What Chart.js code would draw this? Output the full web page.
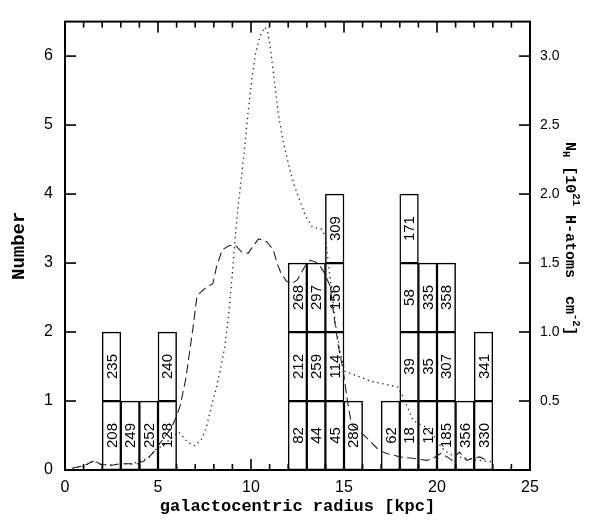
<!DOCTYPE html>
<html><head><meta charset="utf-8">
<script src="https://cdn.jsdelivr.net/npm/chart.js@4"></script>
<style>html,body{margin:0;padding:0;background:#fff}</style>
</head><body>
<canvas id="c" width="595" height="522"></canvas>
<script>
// Histogram boxes (1 kpc wide), each box one object
const boxCenters = [2.5,2.5,3.5,4.5,5.5,5.5,12.5,12.5,12.5,13.5,13.5,13.5,14.5,14.5,14.5,14.5,15.5,17.5,18.5,18.5,18.5,18.5,19.5,19.5,19.5,20.5,20.5,20.5,21.5,22.5,22.5];
const boxLevels  = [0,1,0,0,0,1,0,1,2,0,1,2,0,1,2,3,0,0,0,1,2,3,0,1,2,0,1,2,0,0,1];
const boxLabels  = ['208','235','249','252','128','240','82','212','268','44','259','297','45','114','156','309','280','62','18','39','58','171','12','35','335','185','307','358','356','330','341'];

// Dashed curve (N_H, 10^21 cm^-2)
const dashedR = [0.4,1.0,1.6,1.9,2.5,3.0,3.5,3.8,4.4,4.7,5.0,5.3,5.7,6.0,6.2,6.5,6.9,7.1,7.6,7.95,8.15,8.45,8.8,9.15,9.5,9.85,10.05,10.4,10.85,11.2,11.4,11.6,11.9,12.2,12.5,12.75,13.0,13.2,13.6,13.9,14.25,14.45,14.7,14.95,15.2,15.4,15.85,16.4,16.9,17.3,18.0,18.7,19.45,19.8,20.2,20.55,20.8,21.2,21.6,21.9,22.3,22.65];
const dashedN = [0.015,0.03,0.07,0.04,0.035,0.045,0.045,0.04,0.075,0.12,0.175,0.23,0.3,0.39,0.47,0.665,1.05,1.265,1.325,1.35,1.475,1.595,1.625,1.63,1.58,1.57,1.61,1.675,1.655,1.595,1.5,1.43,1.37,1.35,1.38,1.44,1.5,1.52,1.5,1.44,1.335,1.125,0.895,0.725,0.49,0.33,0.28,0.21,0.14,0.12,0.095,0.085,0.07,0.085,0.12,0.095,0.07,0.13,0.07,0.085,0.095,0.07];

// Dotted curve (N_H, 10^21 cm^-2)
const dottedR = [0.4,1.0,1.5,2.0,2.5,3.0,3.6,4.0,4.5,4.9,5.3,5.7,6.1,6.3,6.6,7.0,7.35,7.6,7.9,8.1,8.35,8.6,8.8,9.0,9.15,9.3,9.5,9.68,9.85,10.05,10.25,10.5,10.75,10.9,11.05,11.2,11.45,11.7,12.0,12.3,12.6,12.9,13.3,13.8,14.0,14.1,14.2,14.35,14.55,14.8,15.05,15.75,16.4,17.3,17.9,18.1,18.45,18.7,19.1,19.6,20.0,20.4,20.9,21.8,22.5,23.0];
const dottedN = [0.01,0.025,0.065,0.04,0.035,0.045,0.045,0.06,0.09,0.15,0.18,0.23,0.275,0.25,0.2,0.175,0.225,0.31,0.475,0.575,0.725,0.9,1.125,1.43,1.685,1.9,2.135,2.37,2.6,2.835,3.025,3.15,3.21,3.175,3.05,2.885,2.6,2.4,2.225,2.075,1.96,1.85,1.76,1.745,1.69,1.57,1.45,1.3,1.05,0.85,0.715,0.68,0.645,0.62,0.6,0.55,0.445,0.36,0.33,0.3,0.21,0.14,0.1,0.08,0.065,0.06];

// Tick labels
const xTickLabels = ['0','5','10','15','20','25'];
const yLeftTickLabels = ['0','1','2','3','4','5','6'];
const yRightTickLabels = ['0.5','1.0','1.5','2.0','2.5','3.0'];

Chart.defaults.font.family = '"Liberation Sans", Arial, sans-serif';
Chart.defaults.color = '#000';

const boxLabelPlugin = {
  id: 'boxLabelPlugin',
  afterDatasetDraw(chart, args) {
    if (args.index !== 0) return;
    const ctx = chart.ctx;
    ctx.save();
    ctx.font = '15px "Liberation Sans", Arial, sans-serif';
    ctx.fillStyle = '#000';
    ctx.textAlign = 'center';
    ctx.textBaseline = 'middle';
    args.meta.data.forEach((el, i) => {
      const p = el.getProps(['x','y','base'], true);
      ctx.save();
      ctx.translate(p.x, (p.y + p.base) / 2);
      ctx.rotate(-Math.PI / 2);
      ctx.fillText(boxLabels[i], 0, 1);
      ctx.restore();
    });
    ctx.restore();
  }
};

const framePlugin = {
  id: 'framePlugin',
  afterDraw(chart) {
    const ctx = chart.ctx;
    const area = chart.chartArea;
    const left = area.left, right = area.right, top = area.top, bottom = area.bottom;
    const sx = chart.scales.x, sy = chart.scales.y, sy2 = chart.scales.y2;
    ctx.save();
    ctx.fillStyle = '#000';
    const tw = 1.6;
    for (let k = 0; k <= 25; k++) {
      const px = sx.getPixelForValue(k);
      const len = (k % 5 === 0) ? 11 : 6;
      ctx.fillRect(px - tw / 2, bottom - len, tw, len);
      ctx.fillRect(px - tw / 2, top, tw, len);
    }
    yLeftTickLabels.forEach(t => {
      const py = sy.getPixelForValue(parseFloat(t));
      ctx.fillRect(left, py - tw / 2, 11, tw);
    });
    yRightTickLabels.forEach(t => {
      const py = sy2.getPixelForValue(parseFloat(t));
      ctx.fillRect(right - 11, py - tw / 2, 11, tw);
    });
    ctx.strokeStyle = '#000';
    ctx.lineWidth = 2;
    ctx.strokeRect(left, top, right - left, bottom - top);

    // right axis title with sub/superscripts
    const base = 15;
    const parts = [
      {t:'N', s:1, dy:0},
      {t:'H', s:0.7, dy:0.3},
      {t:' [10', s:1, dy:0},
      {t:'21', s:0.7, dy:-0.35},
      {t:' H-atoms  cm', s:1, dy:0},
      {t:'-2', s:0.7, dy:-0.35},
      {t:']', s:1, dy:0}
    ];
    let total = 0;
    parts.forEach(p => {
      ctx.font = 'bold ' + (base * p.s) + 'px "Liberation Mono", monospace';
      p.w = ctx.measureText(p.t).width;
      total += p.w;
    });
    ctx.translate(570, (top + bottom) / 2 - 7);
    ctx.rotate(Math.PI / 2);
    ctx.textBaseline = 'middle';
    ctx.textAlign = 'left';
    let xx = -total / 2;
    parts.forEach(p => {
      ctx.font = 'bold ' + (base * p.s) + 'px "Liberation Mono", monospace';
      ctx.fillText(p.t, xx, p.dy * base);
      xx += p.w;
    });
    ctx.restore();
  }
};

new Chart(document.getElementById('c'), {
  type: 'bar',
  data: {
    datasets: [
      {
        type: 'bar',
        data: boxCenters.map((c, i) => ({x: c, y: [boxLevels[i], boxLevels[i] + 1]})),
        backgroundColor: 'rgba(255,255,255,0)',
        borderColor: '#000', borderWidth: 0.8, borderSkipped: false,
        barPercentage: 1, categoryPercentage: 1,
        xAxisID: 'x', yAxisID: 'y', order: 2
      },
      {
        type: 'line',
        data: dottedR.map((r, i) => ({x: r, y: dottedN[i]})),
        borderColor: '#222', borderWidth: 1.3, borderDash: [1.3, 3.7],
        pointRadius: 0, fill: false, tension: 0,
        xAxisID: 'x', yAxisID: 'y2', order: 1
      },
      {
        type: 'line',
        data: dashedR.map((r, i) => ({x: r, y: dashedN[i]})),
        borderColor: '#222', borderWidth: 1.1, borderDash: [9, 4.5],
        pointRadius: 0, fill: false, tension: 0,
        xAxisID: 'x', yAxisID: 'y2', order: 1
      }
    ]
  },
  options: {
    responsive: false, animation: false, devicePixelRatio: 1, events: [],
    layout: {padding: {top: 7, left: 0, right: 0, bottom: 0}},
    plugins: {legend: {display: false}, tooltip: {enabled: false}},
    scales: {
      x: {
        type: 'linear', position: 'bottom', min: 0, max: 25, offset: false,
        grid: {display: false, drawTicks: false, offset: false},
        border: {display: false},
        ticks: {stepSize: 5, padding: 8, font: {size: 16}, color: '#000', maxRotation: 0,
          callback: (v) => xTickLabels.includes(String(v)) ? String(v) : ''},
        title: {display: true, text: 'galactocentric radius [kpc]', color: '#000',
          font: {family: '"Liberation Mono", monospace', size: 17, weight: 'bold'},
          padding: {top: 0, bottom: 5}},
        afterFit(s) { s.height = 52; }
      },
      y: {
        type: 'linear', position: 'left', min: 0, max: 6.5,
        grid: {display: false, drawTicks: false},
        border: {display: false},
        ticks: {stepSize: 1, padding: 12, font: {size: 16}, color: '#000',
          callback: (v) => yLeftTickLabels.includes(String(v)) ? String(v) : ''},
        title: {display: true, text: 'Number', color: '#000',
          font: {family: '"Liberation Mono", monospace', size: 19, weight: 'bold'},
          padding: {top: 8, bottom: 0}},
        afterFit(s) { s.width = 65; }
      },
      y2: {
        type: 'linear', position: 'right', min: 0, max: 3.25,
        grid: {display: false, drawTicks: false},
        border: {display: false},
        ticks: {stepSize: 0.5, padding: 10, font: {size: 14}, color: '#000',
          callback: (v) => { const s = Number(v).toFixed(1); return yRightTickLabels.includes(s) && Math.abs(Number(s) - v) < 1e-9 ? s : ''; }},
        afterFit(s) { s.width = 65; }
      }
    }
  },
  plugins: [boxLabelPlugin, framePlugin]
});
</script>
</body></html>
